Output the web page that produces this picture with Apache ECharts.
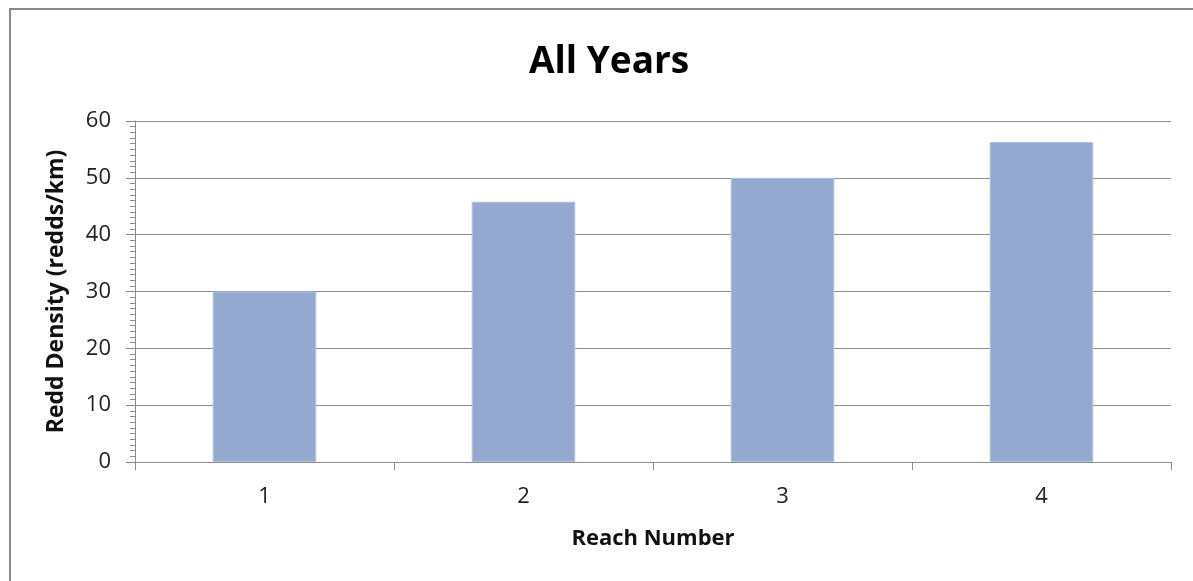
<!DOCTYPE html>
<html>
<head>
<meta charset="utf-8">
<title>All Years</title>
<script src="https://cdn.jsdelivr.net/npm/echarts@6/dist/echarts.min.js"></script>
<style>
  html, body { margin: 0; padding: 0; background: #fff; }
  #chart { width: 1193px; height: 581px; }
</style>
</head>
<body>
<div id="chart"></div>
<script>
// reach numbers and redd density per reach
const reaches = ['1', '2', '3', '4'];
const density = [30, 45.8, 50, 56.3];

const font = '"Open Sans", "Liberation Sans", sans-serif';
const grey = '#8c8c8c';

const chart = echarts.init(document.getElementById('chart'));
chart.setOption({
  animation: false,
  title: {
    text: 'All Years',
    left: 524,
    top: 39,
    textStyle: { fontFamily: font, fontSize: 37, fontWeight: 'bold', color: '#000' }
  },
  graphic: [{
    type: 'rect',
    shape: { x: 10, y: 9, width: 1200, height: 600 },
    style: { fill: 'none', stroke: '#888', lineWidth: 2 },
    silent: true
  }],
  grid: { left: 135, right: 22, top: 121, bottom: 119 },
  xAxis: {
    type: 'category',
    data: reaches,
    name: 'Reach Number',
    nameLocation: 'middle',
    nameGap: 66,
    nameTextStyle: { fontFamily: font, fontSize: 22, fontWeight: 'bold', color: '#111' },
    axisLine: { lineStyle: { color: grey, width: 1 } },
    axisTick: { show: true, length: 8, lineStyle: { color: grey } },
    axisLabel: { fontFamily: font, fontSize: 22, color: '#222', margin: 24 }
  },
  yAxis: {
    type: 'value',
    min: 0,
    max: 60,
    interval: 10,
    name: 'Redd Density (redds/km)',
    nameLocation: 'middle',
    nameGap: 67,
    nameTextStyle: { fontFamily: font, fontSize: 23, fontWeight: 'bold', color: '#111' },
    axisLine: { show: true, lineStyle: { color: grey, width: 1 } },
    axisTick: { show: true, length: 9, lineStyle: { color: grey } },
    minorTick: { show: true, splitNumber: 10, length: 5, lineStyle: { color: grey } },
    splitLine: { show: true, lineStyle: { color: grey, width: 1 } },
    axisLabel: { fontFamily: font, fontSize: 22, color: '#222', margin: 24 }
  },
  series: [{
    type: 'bar',
    data: density,
    barWidth: '40%',
    itemStyle: { color: '#95a9d0', borderColor: '#b4c3e0', borderWidth: 1 }
  }]
});
</script>
</body>
</html>
